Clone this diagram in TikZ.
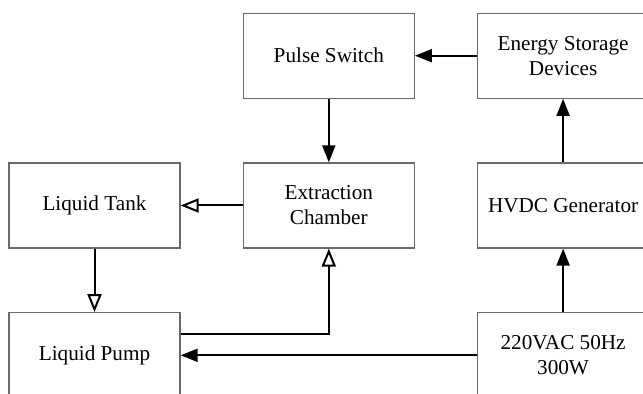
\documentclass[tikz,border=0pt]{standalone}
\usepackage{fontspec}
\setmainfont{Liberation Serif}
\usepackage{tikz}
\usepackage{xcolor}
\usetikzlibrary{arrows.meta,positioning,calc}
\definecolor{blockgray}{RGB}{105,105,105}
\definecolor{blockdark}{RGB}{0,0,0}
\tikzset{
  block box/.style={
    draw=blockgray,
    line width=0.65pt,
    minimum width=85.5pt,
    minimum height=42.5pt,
    inner sep=2pt,
    align=center,
    font=\fontsize{10.6}{12.5}\selectfont,
  },
  power arrow/.style={
    -{Triangle[length=8.5pt,width=6.5pt]},
    line width=1pt,
    draw=blockdark,
  },
  liquid arrow/.style={
    -{Triangle[open,length=9pt,width=7pt]},
    line width=1pt,
    draw=blockdark,
  },
}

\begin{document}
\begin{tikzpicture}[x=0.5pt,y=-0.5pt,node distance=31.75pt and 31pt]
  \useasboundingbox (0,0) rectangle (643,394);
  \clip (0,0) rectangle (643,394);
  \node[block box] (tank) at (94.5,205.5) {Liquid Tank};
  \node[block box, right=of tank] (ext) {Extraction\\Chamber};
  \node[block box, right=of ext] (hvdc) {HVDC Generator};
  \node[block box, above=of ext] (pulse) {Pulse Switch};
  \node[block box, above=of hvdc] (store) {Energy Storage\\Devices};
  \node[block box, below=of tank] (pump) {Liquid Pump};
  \node[block box, below=of hvdc] (ac) {220VAC 50Hz\\300W};
  % electrical path
  \draw[power arrow] (store) -- (pulse);
  \draw[power arrow] (pulse) -- (ext);
  \draw[power arrow] (hvdc) -- (store);
  \draw[power arrow] (ac) -- (hvdc);
  \draw[power arrow] (ac.west) -- (pump.east);
  % liquid loop
  \draw[liquid arrow] (ext) -- (tank);
  \draw[liquid arrow] (tank) -- (pump);
  \draw[liquid arrow] ([yshift=10.75pt]pump.east) -| (ext.south);
\end{tikzpicture}
\end{document}
